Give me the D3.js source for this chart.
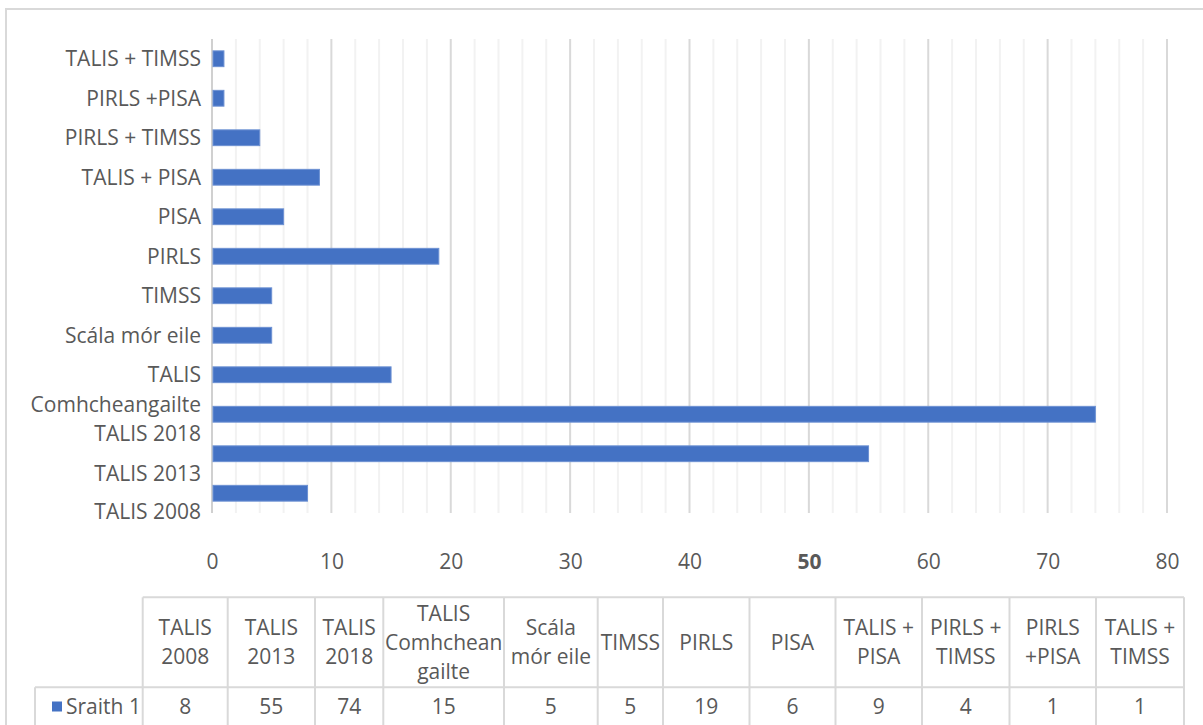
<!DOCTYPE html>
<html>
<head>
<meta charset="utf-8">
<script src="https://cdn.jsdelivr.net/npm/d3@7"></script>
<style>
  html, body { margin: 0; padding: 0; background: #fff; }
  svg { display: block; }
  text { font-family: "Open Sans", "Noto Sans", sans-serif; fill: #595959; }
</style>
</head>
<body>
<svg id="chart" width="1203" height="725"></svg>
<script>
// ---- data ----
const categories = ["TALIS 2008", "TALIS 2013", "TALIS 2018", "TALIS Comhcheangailte", "Scála mór eile",
  "TIMSS", "PIRLS", "PISA", "TALIS + PISA", "PIRLS + TIMSS", "PIRLS +PISA", "TALIS + TIMSS"];
const values = [8, 55, 74, 15, 5, 5, 19, 6, 9, 4, 1, 1];
const seriesName = "Sraith 1";
const xTicks = [0, 10, 20, 30, 40, 50, 60, 70, 80];
const boldTick = 50;
// axis label lines (as wrapped in the picture)
const axisLabelLines = {
  "TALIS Comhcheangailte": ["TALIS", "Comhcheangailte"]
};
// table header lines (as wrapped in the picture)
const headerLines = [["TALIS", "2008"], ["TALIS", "2013"], ["TALIS", "2018"], ["TALIS", "Comhchean", "gailte"],
  ["Scála", "mór eile"], ["TIMSS"], ["PIRLS"], ["PISA"], ["TALIS +", "PISA"], ["PIRLS +", "TIMSS"],
  ["PIRLS", "+PISA"], ["TALIS +", "TIMSS"]];

// ---- layout ----
const FS = 21;
const plot = { left: 212, right: 1167, top: 39, bottom: 513 };
const labelShift = { "TALIS Comhcheangailte": 0, "TALIS 2018": 19.5, "TALIS 2013": 20, "TALIS 2008": 18.5 };
const colWidths = [85, 87.3, 68.3, 120.7, 93.7, 65.3, 86.5, 86, 86.5, 87.5, 86.5, 88];
const table = { legendLeft: 35, left: 142.7, headTop: 597.3, dataTop: 687.3, bottom: 740 };
const gridMajor = "#d9d9d9", gridMinor = "#f2f2f2", barColor = "#4472C4";

const svg = d3.select("#chart");

// outer chart border
svg.append("rect").attr("x", 6).attr("y", 9).attr("width", 1300).attr("height", 800)
  .attr("fill", "none").attr("stroke", "#d9d9d9").attr("stroke-width", 2);

const x = d3.scaleLinear().domain([0, 80]).range([plot.left, plot.right]);
const y = d3.scaleBand().domain(categories.slice().reverse()).range([plot.top, plot.bottom])
  .paddingInner(0.6).paddingOuter(0.3);

// minor gridlines
const minor = d3.range(0, 81, 2).filter(v => v % 10 !== 0);
svg.append("g").selectAll("line").data(minor).join("line")
  .attr("x1", d => x(d)).attr("x2", d => x(d))
  .attr("y1", plot.top).attr("y2", plot.bottom)
  .attr("stroke", gridMinor).attr("stroke-width", 2);
// major gridlines
svg.append("g").selectAll("line").data(xTicks).join("line")
  .attr("x1", d => x(d)).attr("x2", d => x(d))
  .attr("y1", plot.top).attr("y2", plot.bottom)
  .attr("stroke", d => d === 0 ? "#d0d0d0" : gridMajor).attr("stroke-width", 2);

// bars
svg.append("g").selectAll("rect").data(categories).join("rect")
  .attr("x", x(0) + 1)
  .attr("y", d => y(d))
  .attr("width", (d, i) => x(values[i]) - x(0) - 1)
  .attr("height", y.bandwidth())
  .attr("fill", barColor)
  .attr("stroke", "#6d91d3").attr("stroke-width", 1);

// x axis tick labels
const xAxis = d3.axisBottom(x).tickValues(xTicks).tickSize(0).tickPadding(0);
const gx = svg.append("g").attr("transform", `translate(0,${562})`).call(xAxis);
gx.select(".domain").remove();
gx.selectAll("text")
  .attr("y", 0).attr("dy", "0.35em")
  .style("font-family", '"Open Sans", "Noto Sans", sans-serif')
  .style("font-size", FS + "px")
  .style("fill", "#595959")
  .style("font-weight", d => d === boldTick ? "bold" : "normal");

// y axis labels
const yl = svg.append("g");
categories.forEach(c => {
  const lines = axisLabelLines[c] || [c];
  const cy = y(c) + y.bandwidth() / 2 + (labelShift[c] || 0);
  const t = yl.append("text").attr("x", plot.left - 11).attr("text-anchor", "end")
    .style("font-size", FS + "px");
  lines.forEach((ln, k) => {
    t.append("tspan").attr("x", plot.left - 11).attr("y", cy + k * 30).attr("dy", "0.35em").text(ln);
  });
});

// data table
const colX = [table.left];
colWidths.forEach(w => colX.push(colX[colX.length - 1] + w));
const tg = svg.append("g");
const lineStyle = sel => sel.attr("stroke", "#d9d9d9").attr("stroke-width", 2);
// horizontal lines
tg.append("line").attr("x1", table.left).attr("x2", colX[colX.length - 1])
  .attr("y1", table.headTop).attr("y2", table.headTop).call(lineStyle);
tg.append("line").attr("x1", table.legendLeft).attr("x2", colX[colX.length - 1])
  .attr("y1", table.dataTop).attr("y2", table.dataTop).call(lineStyle);
// vertical lines
tg.selectAll("line.v").data(colX).join("line").attr("class", "v")
  .attr("x1", d => d).attr("x2", d => d)
  .attr("y1", table.headTop).attr("y2", table.bottom).call(lineStyle);
tg.append("line").attr("x1", table.legendLeft).attr("x2", table.legendLeft)
  .attr("y1", table.dataTop).attr("y2", table.bottom).call(lineStyle);

// header text
const headMid = (table.headTop + table.dataTop) / 2;
headerLines.forEach((lines, i) => {
  const cx = (colX[i] + colX[i + 1]) / 2;
  const t = tg.append("text").attr("text-anchor", "middle").style("font-size", FS + "px");
  lines.forEach((ln, k) => {
    t.append("tspan").attr("x", cx).attr("y", headMid + (k - (lines.length - 1) / 2) * 29)
      .attr("dy", "0.35em").text(ln);
  });
});

// data row
const rowMid = 706.5;
values.forEach((v, i) => {
  const cx = (colX[i] + colX[i + 1]) / 2;
  tg.append("text").attr("x", cx).attr("y", rowMid).attr("dy", "0.35em")
    .attr("text-anchor", "middle").style("font-size", FS + "px").text(v);
});
// legend key + series name
tg.append("rect").attr("x", 52).attr("y", rowMid - 5).attr("width", 10).attr("height", 10).attr("fill", barColor);
tg.append("text").attr("x", 66).attr("y", rowMid).attr("dy", "0.35em")
  .style("font-size", FS + "px").text(seriesName);
</script>
</body>
</html>
